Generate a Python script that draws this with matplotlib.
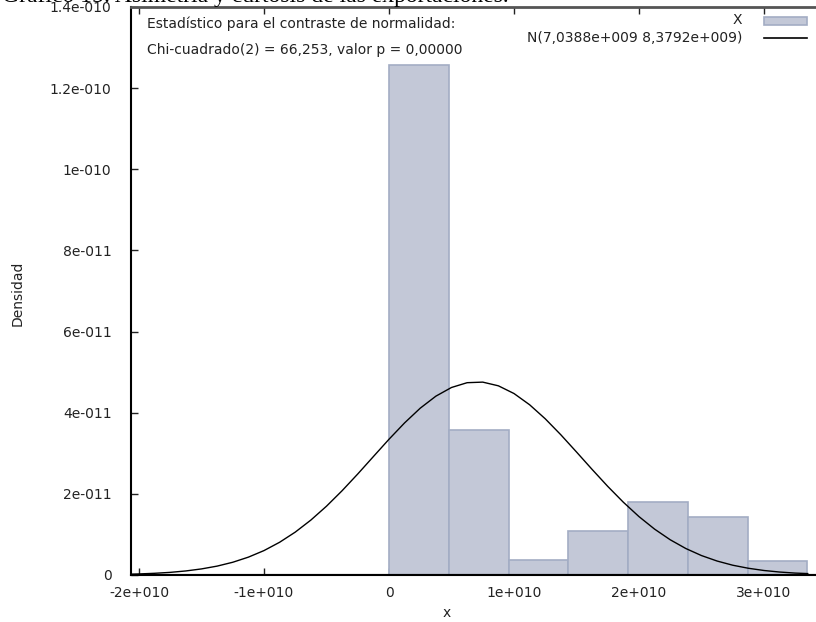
import matplotlib
matplotlib.use('Agg')
import matplotlib.pyplot as plt
from matplotlib.patches import Rectangle
from matplotlib.lines import Line2D

# histogram (density per bin), bins start at 0 with constant width
bin_start = 0.0
bin_width = 4.78e9
densities = [1.257e-10, 3.57e-11, 3.7e-12, 1.08e-11, 1.80e-11, 1.43e-11, 3.45e-12]

# fitted normal curve
curve_x = [-2.06e10, -2.0e10, -1.875e10, -1.75e10, -1.625e10, -1.5e10, -1.375e10,
           -1.25e10, -1.125e10, -1.0e10, -8.75e9, -7.5e9, -6.25e9, -5.0e9, -3.75e9,
           -2.5e9, -1.25e9, 0.0, 1.25e9, 2.5e9, 3.75e9, 5.0e9, 6.25e9, 7.5e9, 8.75e9,
           1.0e10, 1.125e10, 1.25e10, 1.375e10, 1.5e10, 1.625e10, 1.75e10, 1.875e10,
           2.0e10, 2.125e10, 2.25e10, 2.375e10, 2.5e10, 2.625e10, 2.75e10, 2.875e10,
           3.0e10, 3.125e10, 3.25e10, 3.35e10]
curve_y = [2.1e-13, 2.6e-13, 4.2e-13, 6.5e-13, 1.00e-12, 1.50e-12, 2.19e-12,
           3.14e-12, 4.40e-12, 6.02e-12, 8.07e-12, 1.057e-11, 1.354e-11, 1.696e-11, 2.078e-11,
           2.490e-11, 2.919e-11, 3.346e-11, 3.750e-11, 4.112e-11, 4.408e-11, 4.622e-11,
           4.740e-11, 4.754e-11, 4.663e-11, 4.473e-11, 4.196e-11, 3.850e-11, 3.455e-11,
           3.032e-11, 2.602e-11, 2.184e-11, 1.793e-11, 1.439e-11, 1.130e-11, 8.68e-12,
           6.52e-12, 4.79e-12, 3.44e-12, 2.41e-12, 1.66e-12, 1.11e-12, 7.3e-13, 4.7e-13, 3.5e-13]

xticks = [-2e10, -1e10, 0, 1e10, 2e10, 3e10]
xtick_labels = ['-2e+010', '-1e+010', '0', '1e+010', '2e+010', '3e+010']
yticks = [0, 2e-11, 4e-11, 6e-11, 8e-11, 1e-10, 1.2e-10, 1.4e-10]
ytick_labels = ['0', '2e-011', '4e-011', '6e-011', '8e-011', '1e-010', '1.2e-010', '1.4e-010']

W, H = 816, 622
fs = 10
tc = '#222222'
fig = plt.figure(figsize=(W / 100, H / 100), dpi=100)
ax = fig.add_axes([131 / W, 47 / H, (W - 131) / W, 568 / H])

edges = [bin_start + i * bin_width for i in range(len(densities))]
ax.bar(edges, densities, width=bin_width, align='edge',
       color='#c3c8d7', edgecolor='#a3adc4', linewidth=1.2, zorder=2)
ax.plot(curve_x, curve_y, color='black', lw=1.0, zorder=3)

ax.set_xlim(-2.064e10, (W - 389) / 125 * 1e10)
ax.set_ylim(0, 1.4e-10)
ax.set_xticks(xticks)
ax.set_xticklabels(xtick_labels)
ax.set_yticks(yticks)
ax.set_yticklabels(ytick_labels)
ax.tick_params(direction='in', length=5, width=1, top=True, right=False,
               labelsize=fs, colors=tc)
ax.tick_params(axis='x', pad=8)
ax.tick_params(axis='y', pad=14)
ax.spines['right'].set_visible(False)
for s in ['left', 'bottom']:
    ax.spines[s].set_linewidth(1.5)
    ax.spines[s].set_color('black')
ax.spines['top'].set_linewidth(2)
ax.spines['top'].set_color('#555555')
ax.axhline(0, color='black', lw=1.5, zorder=4)

fig.text(447 / W, 1 - 613 / H, 'x', ha='center', va='center', fontsize=fs, color=tc)
fig.text(18 / W, 1 - 293 / H, 'Densidad', ha='center', va='center', rotation=90,
         fontsize=fs, color=tc)

# statistic text
fig.text(147 / W, 1 - 24 / H, 'Estadístico para el contraste de normalidad:',
         ha='left', va='center', fontsize=fs, color=tc)
fig.text(147 / W, 1 - 50 / H, 'Chi-cuadrado(2) = 66,253, valor p = 0,00000',
         ha='left', va='center', fontsize=fs, color=tc)

# legend drawn by hand (right aligned labels, keys on the right)
fig.text(742 / W, 1 - 20 / H, 'X', ha='right', va='center', fontsize=fs, color=tc)
fig.text(742 / W, 1 - 38 / H, 'N(7,0388e+009 8,3792e+009)', ha='right', va='center',
         fontsize=fs, color=tc)
fig.patches.append(Rectangle((764 / W, 1 - 25 / H), 43 / W, 8 / H, transform=fig.transFigure,
                             facecolor='#c3c8d7', edgecolor='#a3adc4', lw=1.2))
fig.lines.append(Line2D([764 / W, 807 / W], [1 - 38 / H, 1 - 38 / H], transform=fig.transFigure,
                        color='black', lw=1.2))

# caption of the document, cut off at the top edge
fig.text(2 / W, 1 - 2 / H, 'Gráfico 15: Asimetría y curtosis de las exportaciones.',
         ha='left', va='baseline', fontsize=17, family='Liberation Serif', color='black')

fig.savefig('out.png', dpi=100)
